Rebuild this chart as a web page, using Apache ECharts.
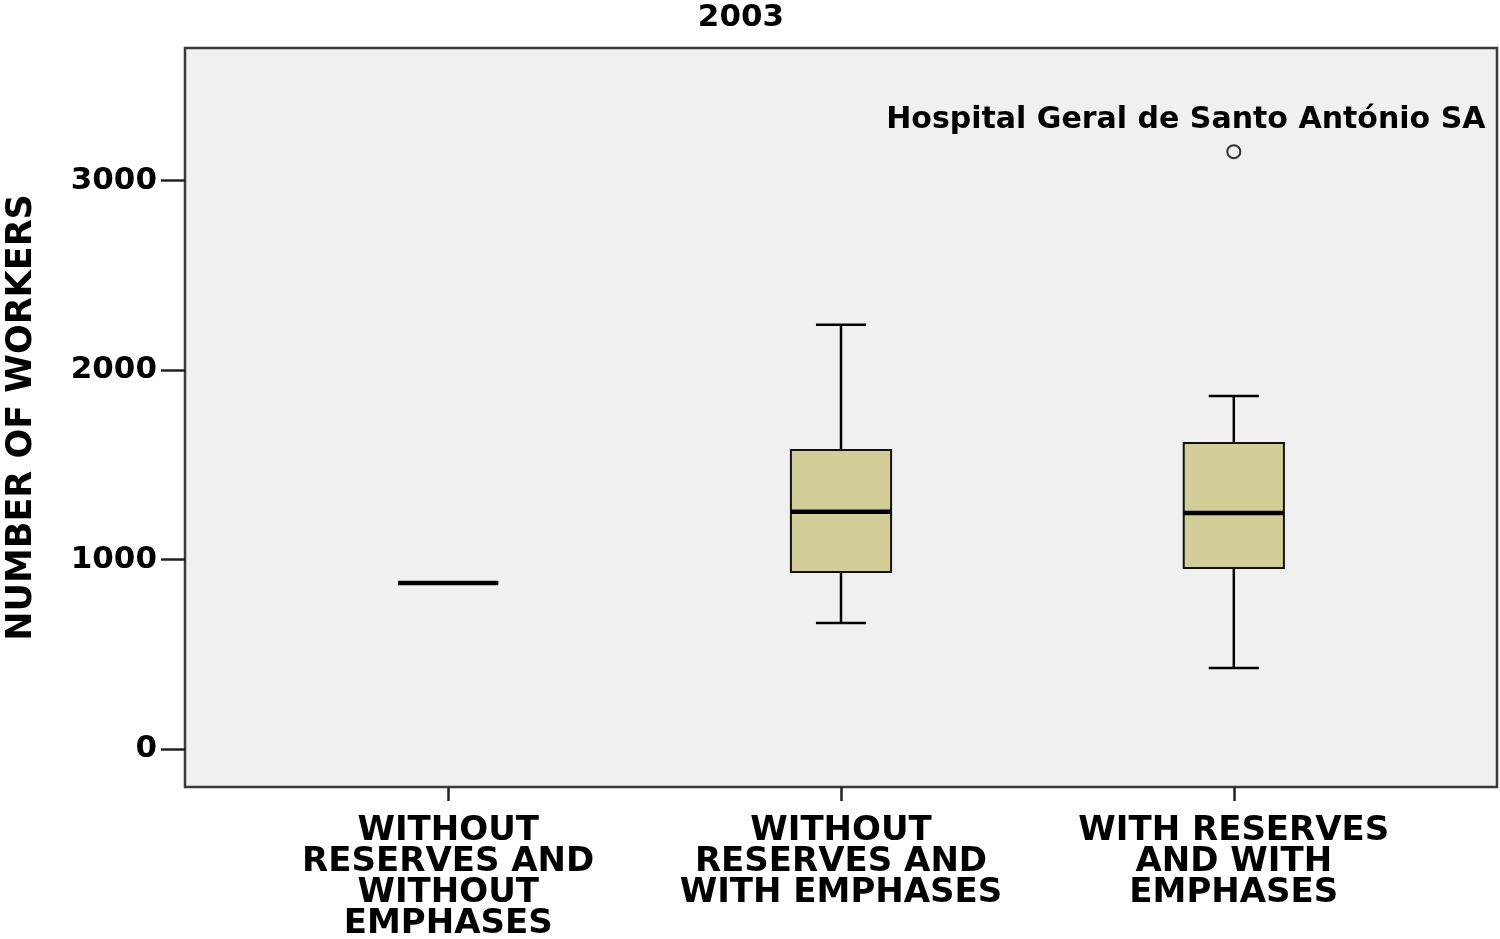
<!DOCTYPE html>
<html>
<head>
<meta charset="utf-8">
<script src="https://cdn.jsdelivr.net/npm/echarts@6/dist/echarts.min.js"></script>
<style>
html,body{margin:0;padding:0;background:#fff;}
#chart{width:1500px;height:939px;}
</style>
</head>
<body>
<div id="chart"></div>
<script>
// ---- data ----
const chartTitle = '2003';
const yAxisName = 'NUMBER OF WORKERS';
const categories = [
  'WITHOUT\nRESERVES AND\nWITHOUT\nEMPHASES',
  'WITHOUT\nRESERVES AND\nWITH EMPHASES',
  'WITH RESERVES\nAND WITH\nEMPHASES'
];
const categoryPos = [1, 2, 3];
const whiskerLow = [876, 665, 428];
const q1 = [876, 935, 956];
const median = [876, 1252, 1246];
const q3 = [876, 1579, 1616];
const whiskerHigh = [876, 2239, 1864];
const outlierCategory = [3];
const outlierValue = [3153];
const outlierName = ['Hospital Geral de Santo António SA'];
const yTicks = [0, 1000, 2000, 3000];

// ---- build ----
const boxRows = categoryPos.map((c, i) => [c, whiskerLow[i], q1[i], median[i], q3[i], whiskerHigh[i]]);
const outlierRows = outlierCategory.map((c, i) => ({ value: [c, outlierValue[i]], name: outlierName[i] }));

const FONT = 'DejaVu Sans';

function renderBox(params, api) {
  const x = api.value(0);
  const v = [1, 2, 3, 4, 5].map(i => api.value(i));
  const w = api.size([1, 0])[0] * 0.255;
  const cap = w / 2;
  const pt = val => api.coord([x, val]);
  const cx = pt(v[0])[0];
  const yMin = pt(v[0])[1], yQ1 = pt(v[1])[1], yMed = pt(v[2])[1], yQ3 = pt(v[3])[1], yMax = pt(v[4])[1];
  const line = (x1, y1, x2, y2, lw) => ({ type: 'line', shape: { x1, y1, x2, y2 }, style: { stroke: '#000', lineWidth: lw } });
  return {
    type: 'group',
    children: [
      line(cx, yQ1, cx, yMin, 2.5),
      line(cx, yQ3, cx, yMax, 2.5),
      line(cx - cap / 2, yMin, cx + cap / 2, yMin, 2.5),
      line(cx - cap / 2, yMax, cx + cap / 2, yMax, 2.5),
      { type: 'rect', shape: { x: cx - w / 2, y: yQ3, width: w, height: yQ1 - yQ3 },
        style: { fill: '#d3ce97', stroke: '#111', lineWidth: 2 } },
      line(cx - w / 2, yMed, cx + w / 2, yMed, 4.5)
    ]
  };
}

const chart = echarts.init(document.getElementById('chart'));
chart.setOption({
  animation: false,
  backgroundColor: '#ffffff',
  title: {
    text: chartTitle,
    left: 736,
    top: -3,
    textAlign: 'center',
    textStyle: { fontFamily: FONT, fontSize: 31, fontWeight: 'bold', color: '#000' }
  },
  grid: {
    left: 185, right: 3, top: 48, bottom: 152,
    containLabel: false,
    outerBoundsMode: 'none',
    show: true, backgroundColor: '#f0f0f0', borderColor: '#3a3a3a', borderWidth: 2.5
  },
  xAxis: {
    type: 'value',
    min: 0.33, max: 3.67,
    splitLine: { show: false },
    axisLine: { show: false, onZero: false },
    axisTick: { show: true, customValues: categoryPos, length: 14, lineStyle: { color: '#222', width: 2.5 } },
    axisLabel: {
      customValues: categoryPos,
      formatter: v => categories[Math.round(v) - 1] || '',
      margin: 29,
      lineHeight: 31,
      fontFamily: FONT, fontSize: 34, fontWeight: 'bold', color: '#000', align: 'center'
    }
  },
  yAxis: {
    type: 'value',
    min: -200, max: 3700,
    name: yAxisName,
    nameLocation: 'middle',
    nameRotate: 90,
    nameGap: 146,
    nameTextStyle: { fontFamily: FONT, fontSize: 35, fontWeight: 'bold', color: '#000' },
    splitLine: { show: false },
    axisLine: { show: false },
    axisTick: { show: true, customValues: yTicks, length: 24, lineStyle: { color: '#222', width: 2.5 } },
    axisLabel: {
      customValues: yTicks,
      formatter: v => String(v),
      margin: 28,
      fontFamily: FONT, fontSize: 31, fontWeight: 'bold', color: '#000'
    }
  },
  series: [
    {
      type: 'custom',
      renderItem: renderBox,
      data: boxRows,
      encode: { x: 0, y: [1, 2, 3, 4, 5] },
      z: 2
    },
    {
      type: 'scatter',
      data: outlierRows,
      symbol: 'circle',
      symbolSize: 13,
      itemStyle: { color: '#f0f0f0', borderColor: '#333', borderWidth: 2, opacity: 1 },
      label: {
        show: true,
        formatter: p => p.name,
        position: 'top',
        offset: [-48, -4],
        fontFamily: FONT, fontSize: 30, fontWeight: 'bold', color: '#000'
      },
      z: 3
    }
  ]
});
</script>
</body>
</html>
